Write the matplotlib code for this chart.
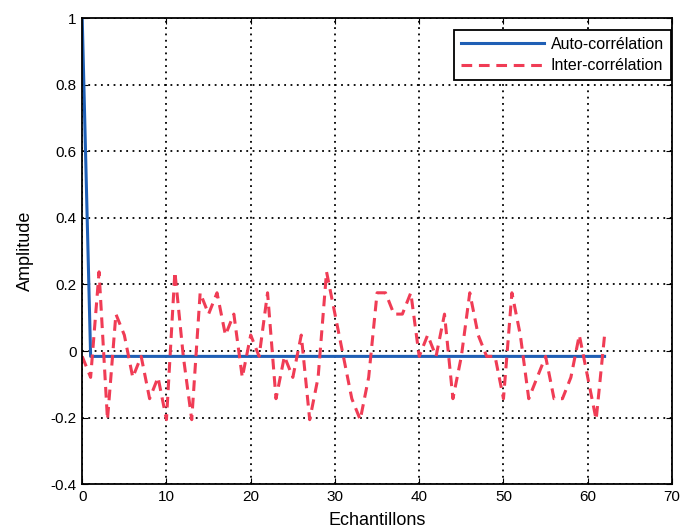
import matplotlib.pyplot as plt
import numpy as np

plt.rcParams['font.family'] = ['Liberation Sans', 'DejaVu Sans']

# lags 0..62
lags = np.arange(63)

# auto-correlation: 1 at lag 0, -1/63 elsewhere
auto_corr = [1.0] + [-0.016] * 62

# inter-correlation
inter_corr = [
    -0.016, -0.079, 0.238, -0.206, 0.111, 0.048, -0.079, -0.016, -0.143, -0.079,
    -0.206, 0.238, -0.016, -0.206, 0.175, 0.111, 0.175, 0.048, 0.111, -0.079,
    0.048, -0.016, 0.175, -0.143, -0.016, -0.079, 0.048, -0.206, -0.079, 0.238,
    0.111, -0.016, -0.143, -0.206, -0.079, 0.175, 0.175, 0.111, 0.111, 0.175,
    -0.016, 0.048, -0.016, 0.111, -0.143, -0.016, 0.175, 0.048, -0.016, -0.016,
    -0.143, 0.175, 0.048, -0.143, -0.079, -0.016, -0.143, -0.143, -0.079, 0.048,
    -0.079, -0.206, 0.048,
]

fig = plt.figure(figsize=(6.85, 5.31), dpi=100)
ax = fig.add_axes([0.12, 0.088, 0.861, 0.878])

ax.plot(lags, auto_corr, color='#1f5fb5', lw=2.2, label='Auto-corrélation')
ax.plot(lags, inter_corr, color='#f03c55', lw=2.2, ls=(0, (3.5, 2.2)), label='Inter-corrélation')

ax.set_xlim(0, 70)
ax.set_ylim(-0.4, 1)
ax.set_xticks(np.arange(0, 71, 10))
ax.set_yticks(np.arange(-0.4, 1.01, 0.2))
ax.set_yticklabels(['-0.4', '-0.2', '0', '0.2', '0.4', '0.6', '0.8', '1'])

ax.grid(True, color='black', ls=(0, (1, 2.5)), lw=1.3)
ax.tick_params(direction='in', length=4, labelsize=11, top=True, right=True, pad=4)
for s in ax.spines.values():
    s.set_linewidth(1.3)

ax.set_xlabel('Echantillons', fontsize=13, labelpad=6)
ax.set_ylabel('Amplitude', fontsize=13, labelpad=12)

leg = ax.legend(loc='upper right', bbox_to_anchor=(0.998, 0.975), borderaxespad=0,
                fontsize=11.5, fancybox=False, framealpha=1,
                edgecolor='black', handlelength=5.2,
                borderpad=0.45, labelspacing=0.4, handletextpad=0.4)
leg.get_frame().set_linewidth(1.3)

fig.savefig('out.png', dpi=100)
